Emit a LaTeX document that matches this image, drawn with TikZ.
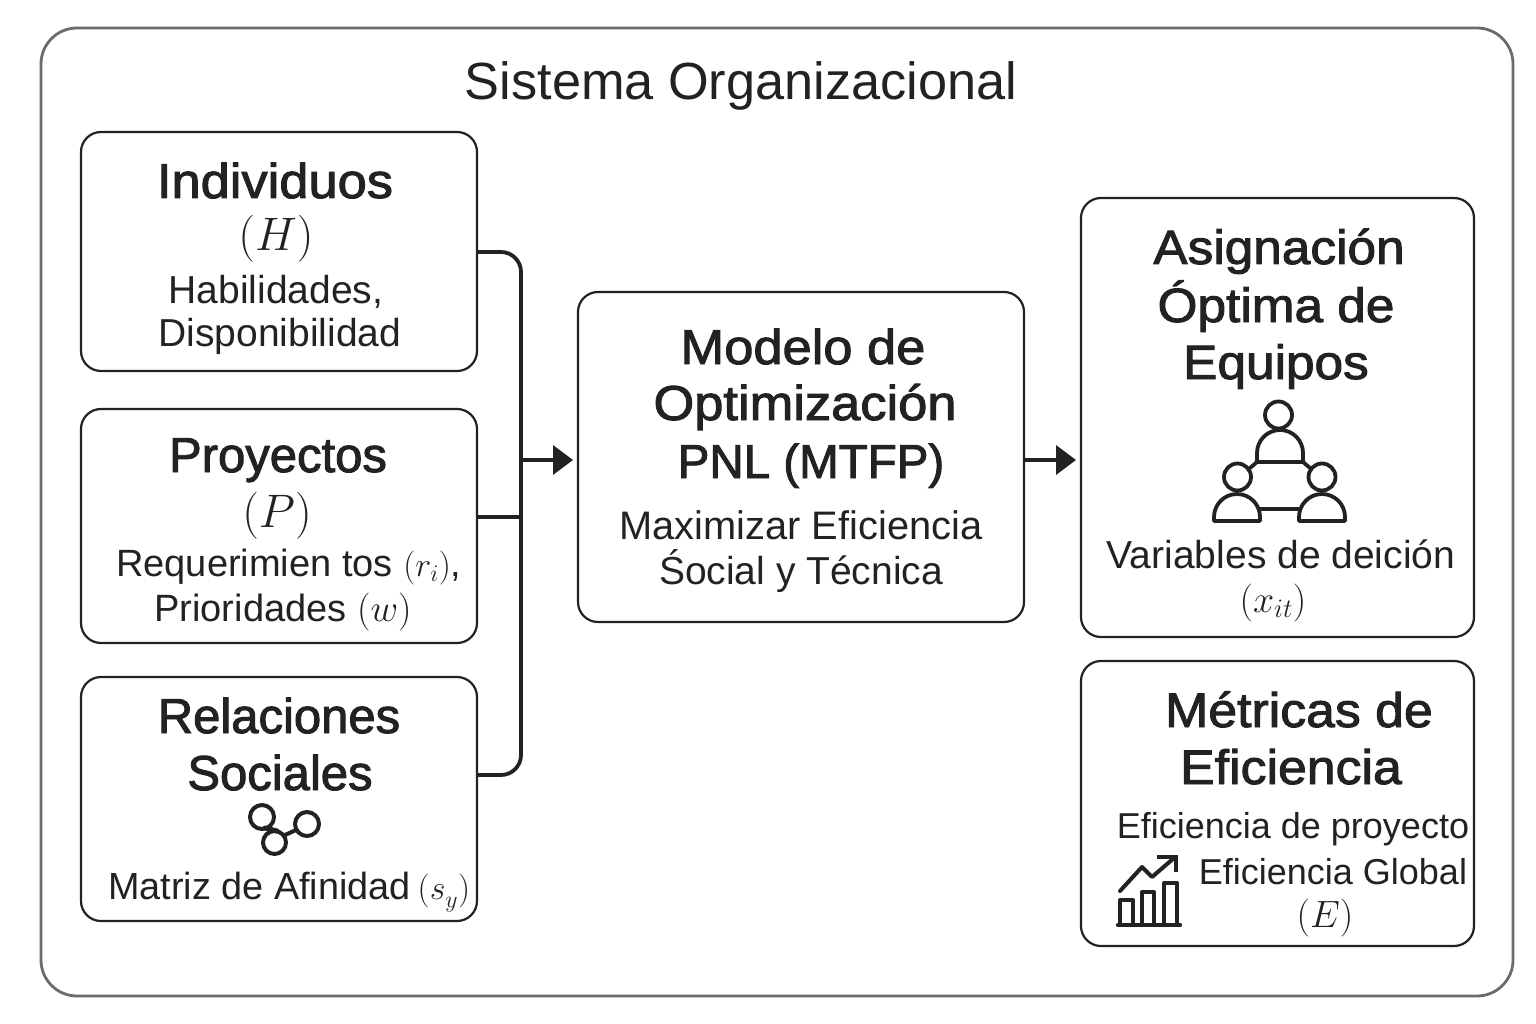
\RequirePackage{fix-cm}
\documentclass[tikz,border=0pt]{standalone}
\usepackage{fontspec}
\setmainfont{Liberation Sans}
\newfontfamily\headfont[FakeBold=2,FakeStretch=1.07]{Liberation Sans}
\newfontfamily\headplain[FakeBold=2]{Liberation Sans}
\newcommand{\inlinemath}[1]{{\fontsize{34}{40}\selectfont $#1$}}
\usetikzlibrary{arrows.meta,calc}
\definecolor{ink}{HTML}{222222}
\tikzset{
  x=1pt,y=-1pt,
  card/.style={draw=ink,line width=2.2pt,rounded corners=20pt,fill=white,inner sep=0pt,outer sep=0pt,anchor=north west},
  head/.style={font=\fontsize{49}{50}\selectfont\headfont,text=ink,inner sep=0pt,anchor=base},
  headtight/.style={head,font=\fontsize{49}{50}\selectfont\headplain},
  body/.style={font=\fontsize{39}{40}\selectfont,text=ink,inner sep=0pt,anchor=base},
  small/.style={font=\fontsize{36}{40}\selectfont,text=ink,inner sep=0pt,anchor=base},
  mathbig/.style={font=\fontsize{47}{50}\selectfont,text=ink,inner sep=0pt,anchor=base},
  mathmid/.style={font=\fontsize{38}{40}\selectfont,text=ink,inner sep=0pt,anchor=base},
  link/.style={draw=ink,line width=3.8pt,rounded corners=20pt},
  flow/.style={draw=ink,line width=3.8pt,-{Triangle[length=20pt,width=29pt]}},
  icon/.style={draw=ink,line width=4pt,line join=round,line cap=round},
}
\begin{document}
\begin{tikzpicture}
\useasboundingbox (0,0) rectangle (1536,1024);
\fill[white] (0,0) rectangle (1536,1024);
\node[draw=black!58,line width=2.8pt,rounded corners=36pt,inner sep=0pt,outer sep=0pt,anchor=north west,minimum width=1472pt,minimum height=968pt] (sys) at (41,28) {};
\node[font=\fontsize{52.3}{54}\selectfont,text=ink,inner sep=0pt,anchor=base] (title) at (741,100) {Sistema Organizacional};

\node[card,minimum width=396pt,minimum height=239pt] (ind) at (81,132) {};
\node[card,minimum width=396pt,minimum height=234pt] (pro) at (81,409) {};
\node[card,minimum width=396pt,minimum height=244pt] (rel) at (81,677) {};
\node[card,minimum width=446pt,minimum height=330pt] (mod) at (578,292) {};
\node[card,minimum width=393pt,minimum height=439pt] (asi) at (1081,198) {};
\node[card,minimum width=393pt,minimum height=285pt] (met) at (1081,661) {};

\node[head] (t1) at (275,198) {Individuos};
\node[mathbig] (t2) at (276,251) {$(H)$};
\node[body] (t3) at (276,303) {Habilidades,};
\node[body] (t4) at (280,346) {Disponibilidad};

\node[headtight] (t5) at (278,472) {Proyectos};
\node[mathbig] (t6) at (277,527) {$(P)$};
\node[body,anchor=base west,font=\fontsize{38}{40}\selectfont] (t7) at (116,576) {Requerimien tos \inlinemath{(r_i)},};
\node[body,font=\fontsize{38}{40}\selectfont] (t8) at (283,621) {Prioridades $(w)$};

\node[headtight] (t9) at (279,733) {Relaciones};
\node[headtight] (t10) at (280,790) {Sociales};
\node[body,anchor=base west,font=\fontsize{37.8}{40}\selectfont] (t11) at (108,899) {Matriz de Afinidad\hspace{7pt}\inlinemath{(s_{\lower3pt\hbox{$\scriptstyle y$}})}};

\node[head] (t12) at (803,364) {Modelo de};
\node[head] (t13) at (805,420) {Optimización};
\node[head,font=\fontsize{47.5}{50}\selectfont\headplain] (t14) at (811,478) {PNL (MTFP)};
\node[body,font=\fontsize{39.8}{40}\selectfont] (t15) at (801,539) {Maximizar Eficiencia};
\node[body] (t16) at (801,584) {Śocial y Técnica};

\node[head,font=\fontsize{48}{50}\selectfont\headfont] (t17) at (1279,264) {Asignación};
\node[head,font=\fontsize{48}{50}\selectfont\headfont] (t18) at (1276,322) {Óptima de};
\node[head,font=\fontsize{48}{50}\selectfont\headfont] (t19) at (1276,379) {Equipos};
\node[body] (t20) at (1281,568) {Variables de deición};
\node[mathmid] (t21) at (1273,612) {$(x_{it})$};

\node[head,font=\fontsize{48.4}{50}\selectfont\headfont] (t22) at (1299,727) {Métricas de};
\node[head,font=\fontsize{48.4}{50}\selectfont\headfont] (t23) at (1291,784) {Eficiencia};
\node[small] (t24) at (1293,838) {Eficiencia de proyecto};
\node[small] (t25) at (1333,884) {Eficiencia Global};
\node[mathmid] (t26) at (1325,927) {$(E)$};

% connectors
\coordinate (busA) at (521,252);
\coordinate (busB) at (521,775);
\coordinate (busC) at (521,517);
\coordinate (busD) at (521,460);
\draw[link] (ind.east |- busA) -- (busA) -- (busB) -- (rel.east |- busB);
\draw[draw=ink,line width=3.8pt] (pro.east |- busC) -- (busC);
\draw[flow] (busD) -- ($(mod.west |- busD)+(-5,0)$);
\coordinate (outA) at (1025,460);
\draw[flow] (mod.east |- outA) -- ($(asi.west |- outA)+(-5,0)$);

% social icon
\begin{scope}[icon,line width=4pt]
\draw (262,817) circle (12pt);
\draw (307,824) circle (12pt);
\draw (274.5,842.5) circle (11.5pt);
\draw (285,835) -- (296,830);
\draw[line width=5pt] (265,828) -- (277,831);
\end{scope}

% team icon
\begin{scope}[icon,line width=3.8pt]
\draw (1278.5,415) circle (13.5pt);
\draw (1257,462) -- (1257,453) arc[start angle=180,end angle=0,radius=23pt] -- (1303,462) -- cycle;
\draw (1237.5,477) circle (13.5pt);
\draw (1322,477) circle (13.5pt);
\draw (1214,521) -- (1214,517) arc[start angle=180,end angle=0,radius=23pt] -- (1260,521) -- cycle;
\draw (1299,521) -- (1299,517) arc[start angle=180,end angle=0,radius=23pt] -- (1345,521) -- cycle;
\draw (1257,462) -- (1250,468);
\draw (1303,462) -- (1310,468);
\draw (1260,509) -- (1299,509);
\end{scope}

% chart icon
\begin{scope}[icon,line width=4pt]
\draw[line width=4.4pt] (1118,925) -- (1180,925);
\draw (1120,925) -- (1120,900) -- (1133,900) -- (1133,925);
\draw (1142,925) -- (1142,892) -- (1154,892) -- (1154,925);
\draw (1164,925) -- (1164,883) -- (1177,883) -- (1177,925);
\draw (1120,891) -- (1142,867) -- (1152,877) -- (1174,858);
\draw[line cap=butt,line join=miter] (1157,857) -- (1176,857) -- (1176,872);
\end{scope}
\end{tikzpicture}
\end{document}
